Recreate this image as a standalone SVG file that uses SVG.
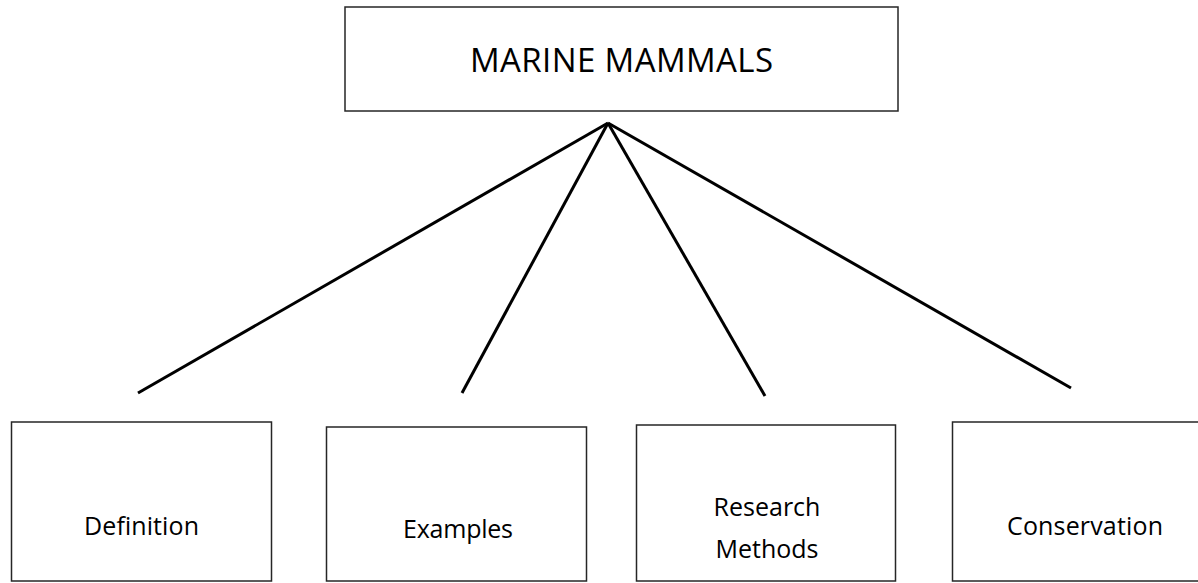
<svg xmlns="http://www.w3.org/2000/svg" width="1198" height="583" viewBox="0 0 1198 583">
<style>
.box{fill:#fff;stroke:#262626;stroke-width:1.5}
.lbl{font-family:"Open Sans","Liberation Sans",sans-serif;font-size:25px;fill:#000;text-anchor:middle}
.ttl{font-size:33px}
.conn{stroke:#000;stroke-width:3;stroke-linecap:butt}
</style>
<rect width="1198" height="583" fill="#fff"/>
<g id="connectors">
<line class="conn" x1="608" y1="123" x2="138" y2="393"/>
<line class="conn" x1="608" y1="123" x2="462" y2="393"/>
<line class="conn" x1="608" y1="123" x2="765" y2="396"/>
<line class="conn" x1="608" y1="123" x2="1071" y2="388"/>
</g>
<g id="node-marine-mammals">
<rect class="box" x="345" y="7" width="553" height="104"/>
<text class="lbl ttl" x="621.5" y="72" textLength="303">MARINE MAMMALS</text>
</g>
<g id="node-definition">
<rect class="box" x="11.5" y="422" width="260" height="159"/>
<text class="lbl" x="141.5" y="535" textLength="115">Definition</text>
</g>
<g id="node-examples">
<rect class="box" x="326.5" y="427" width="260" height="154"/>
<text class="lbl" x="458" y="538" textLength="110">Examples</text>
</g>
<g id="node-research-methods">
<rect class="box" x="636.5" y="425" width="259" height="156"/>
<text class="lbl" x="767" y="516">Research</text>
<text class="lbl" x="767" y="558">Methods</text>
</g>
<g id="node-conservation">
<rect class="box" x="952.5" y="422" width="266" height="159"/>
<text class="lbl" x="1085" y="535" textLength="156">Conservation</text>
</g>
</svg>
